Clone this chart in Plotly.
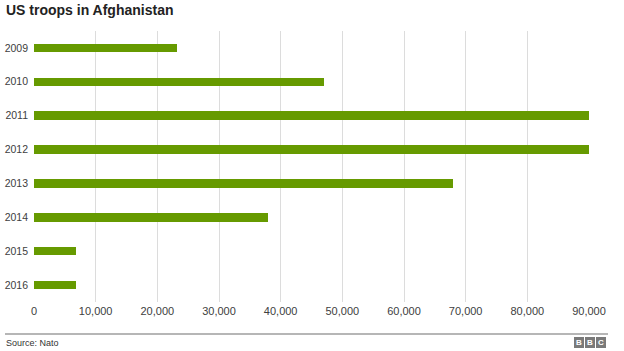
import plotly.graph_objects as go

years = ["2009", "2010", "2011", "2012", "2013", "2014", "2015", "2016"]
troops = [23200, 47000, 90000, 90000, 68000, 38000, 6800, 6800]
x_ticks = [0, 10000, 20000, 30000, 40000, 50000, 60000, 70000, 80000, 90000]
x_tick_labels = ["0", "10,000", "20,000", "30,000", "40,000", "50,000",
                 "60,000", "70,000", "80,000", "90,000"]

W, H = 624, 351
L, R, T, B = 34, 35, 31, 49
pw, ph = W - L - R, H - T - B

def px(x):
    return (x - L) / pw

def py(y):
    return (H - B - y) / ph

fig = go.Figure()
fig.add_trace(go.Bar(
    y=years, x=troops, orientation="h",
    marker=dict(color="#669a00", line=dict(width=0)),
    width=0.25,
))

fig.update_layout(
    width=W, height=H,
    margin=dict(l=L, r=R, t=T, b=B, pad=0, autoexpand=False),
    paper_bgcolor="white", plot_bgcolor="white",
    font=dict(family="Liberation Sans, Arial, sans-serif", color="#404040", size=11),
    showlegend=False,
    bargap=0,
    xaxis=dict(
        range=[0, 90000], tickvals=x_ticks, ticktext=x_tick_labels,
        showgrid=True, gridcolor="#dcdcdc", gridwidth=1,
        zeroline=False, showline=False, ticks="", automargin=False,
        ticklabelstandoff=1,
        tickfont=dict(size=11, color="#404040"),
        fixedrange=True,
    ),
    yaxis=dict(
        categoryorder="array", categoryarray=years, autorange="reversed",
        showgrid=False, zeroline=False, showline=False, ticks="", automargin=False,
        ticklabelstandoff=5,
        tickfont=dict(size=10.5, color="#404040"),
    ),
)

# Title
fig.add_annotation(
    text="<b>US troops in Afghanistan</b>", xref="paper", yref="paper",
    x=px(4), y=py(10), xanchor="left", yanchor="middle", showarrow=False,
    font=dict(size=14, color="#222222", family="Liberation Sans, Arial, sans-serif"),
)

# Bottom rule
fig.add_shape(type="line", xref="paper", yref="paper",
              x0=px(5), x1=px(608), y0=py(334), y1=py(334),
              line=dict(color="#6e6e6e", width=1.2))

# Source
fig.add_annotation(
    text="Source: Nato", xref="paper", yref="paper",
    x=px(4), y=py(343), xanchor="left", yanchor="middle", showarrow=False,
    font=dict(size=9, color="#333333"),
)

# BBC logo
for i, ch in enumerate("BBC"):
    x0 = 574 + i * 11
    fig.add_shape(type="rect", xref="paper", yref="paper",
                  x0=px(x0), x1=px(x0 + 10), y0=py(348), y1=py(337),
                  fillcolor="#7a7a7a", line=dict(width=0))
    fig.add_annotation(
        text=f"<b>{ch}</b>", xref="paper", yref="paper",
        x=px(x0 + 5), y=py(342.5), xanchor="center", yanchor="middle",
        showarrow=False, font=dict(size=8, color="white"),
    )

fig.write_html("out.html")
